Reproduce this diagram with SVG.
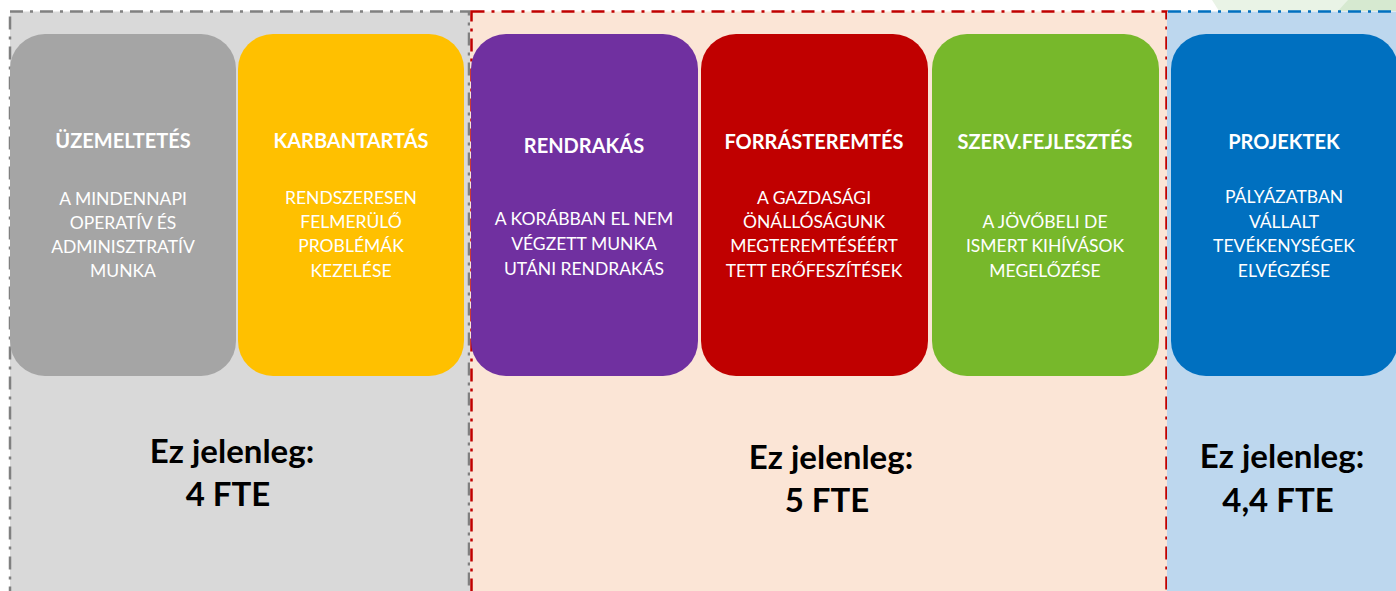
<svg xmlns="http://www.w3.org/2000/svg" width="1396" height="591" viewBox="0 0 1396 591">
<style>
.t{font-family:Lato,"Liberation Sans",sans-serif;font-weight:bold;font-size:20px;fill:#fff;text-anchor:middle}
.b{font-family:Lato,"Liberation Sans",sans-serif;font-size:17.5px;fill:#fff;text-anchor:middle}
.f{font-family:Lato,"Liberation Sans",sans-serif;font-weight:bold;font-size:33px;fill:#000;text-anchor:middle}
.pb{stroke-width:2.5;stroke-dasharray:13 7 3 7}
</style>
<rect width="1396" height="591" fill="#fff"/>
<polygon points="1212,0 1396,0 1396,11 1219,11" fill="#e9f3e6"/>
<polygon points="1348,0 1396,0 1396,11 1338,11" fill="#d6e9d0"/>
<g id="panel-gray">
<rect x="10" y="11.5" width="460" height="600" fill="#d9d9d9"/>
<rect class="pb" x="10" y="11.5" width="459" height="600" fill="none" stroke="#808080"/>
</g>
<g id="panel-peach">
<rect x="470" y="11.5" width="697" height="600" fill="#fbe5d6"/>
<rect class="pb" x="471.5" y="11.5" width="695" height="600" fill="none" stroke="#c00000"/>
</g>
<g id="panel-blue">
<rect x="1167" y="11.5" width="240" height="600" fill="#bdd7ee"/>
<path class="pb" d="M1168,11.5 H1400" fill="none" stroke="#0070c0"/>
</g>
<g id="connectors"/>
<g id="uzemeltetes">
<rect x="10" y="34" width="226" height="342" rx="35" fill="#a5a5a5"/>
<text class="t" x="123" y="148">ÜZEMELTETÉS</text>
<text class="b" x="123" y="205">A MINDENNAPI</text>
<text class="b" x="123" y="229">OPERATÍV ÉS</text>
<text class="b" x="123" y="253">ADMINISZTRATÍV</text>
<text class="b" x="123" y="277">MUNKA</text>
</g>
<g id="karbantartas">
<rect x="238" y="34" width="226" height="342" rx="35" fill="#ffc000"/>
<text class="t" x="351" y="148">KARBANTARTÁS</text>
<text class="b" x="351" y="204">RENDSZERESEN</text>
<text class="b" x="351" y="228">FELMERÜLŐ</text>
<text class="b" x="351" y="252">PROBLÉMÁK</text>
<text class="b" x="351" y="277">KEZELÉSE</text>
</g>
<g id="rendrakas">
<rect x="471" y="34" width="227" height="342" rx="35" fill="#7030a0"/>
<text class="t" x="584" y="153">RENDRAKÁS</text>
<text class="b" x="584" y="225">A KORÁBBAN EL NEM</text>
<text class="b" x="584" y="250">VÉGZETT MUNKA</text>
<text class="b" x="584" y="275">UTÁNI RENDRAKÁS</text>
</g>
<g id="forrasteremtes">
<rect x="701" y="34" width="227" height="342" rx="35" fill="#c00000"/>
<text class="t" x="814" y="149">FORRÁSTEREMTÉS</text>
<text class="b" x="814" y="204">A GAZDASÁGI</text>
<text class="b" x="814" y="228">ÖNÁLLÓSÁGUNK</text>
<text class="b" x="814" y="252">MEGTEREMTÉSÉÉRT</text>
<text class="b" x="814" y="277">TETT ERŐFESZÍTÉSEK</text>
</g>
<g id="szervfejlesztes">
<rect x="932" y="34" width="227" height="342" rx="35" fill="#77b82b"/>
<text class="t" x="1045" y="149">SZERV.FEJLESZTÉS</text>
<text class="b" x="1045" y="228">A JÖVŐBELI DE</text>
<text class="b" x="1045" y="252">ISMERT KIHÍVÁSOK</text>
<text class="b" x="1045" y="277">MEGELŐZÉSE</text>
</g>
<g id="projektek">
<rect x="1171" y="34" width="227" height="342" rx="35" fill="#0070c0"/>
<text class="t" x="1284" y="149">PROJEKTEK</text>
<text class="b" x="1284" y="203">PÁLYÁZATBAN</text>
<text class="b" x="1284" y="228">VÁLLALT</text>
<text class="b" x="1284" y="252">TEVÉKENYSÉGEK</text>
<text class="b" x="1284" y="277">ELVÉGZÉSE</text>
</g>
<g id="fte-gray">
<text class="f" x="232" y="463">Ez jelenleg:</text>
<text class="f" x="228" y="506">4 FTE</text>
</g>
<g id="fte-peach">
<text class="f" x="831" y="469">Ez jelenleg:</text>
<text class="f" x="827" y="512">5 FTE</text>
</g>
<g id="fte-blue">
<text class="f" x="1282" y="468">Ez jelenleg:</text>
<text class="f" x="1278" y="512">4,4 FTE</text>
</g>
</svg>
